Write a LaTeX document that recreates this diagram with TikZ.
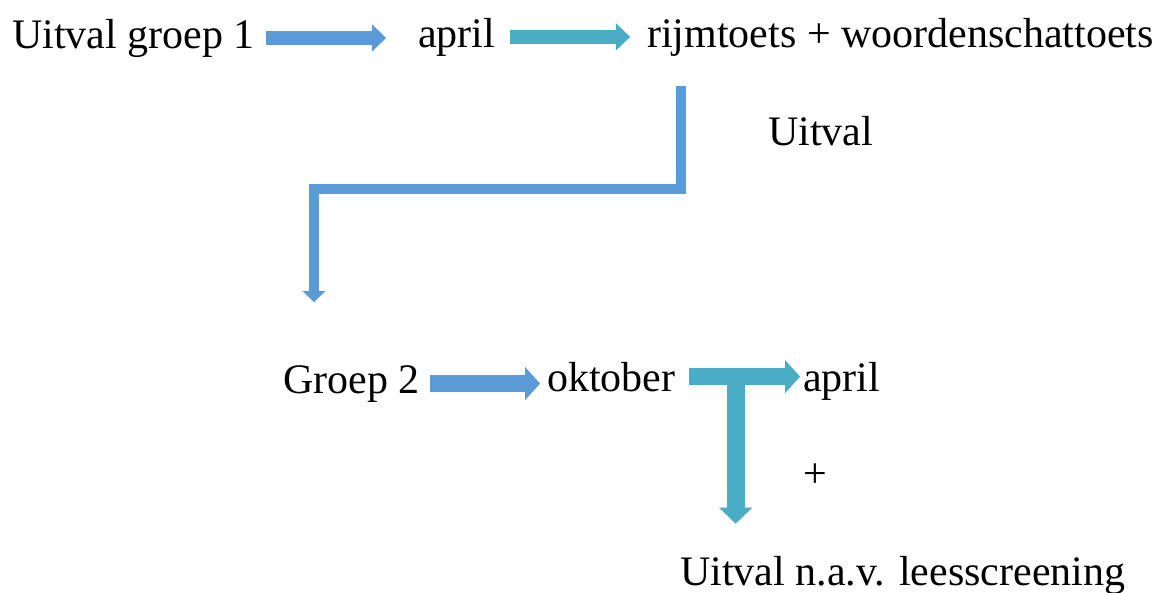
\documentclass[tikz,border=0pt]{standalone}
\usepackage{fontspec}
\setmainfont{Liberation Serif}
\usetikzlibrary{arrows.meta,calc}
\definecolor{accblue}{HTML}{5B9BD5}
\definecolor{accteal}{HTML}{4BACC6}
\tikzset{
  lbl/.style={inner sep=0pt, anchor=base west, font=\fontsize{42}{50}\selectfont},
  arrsmall/.style={line width=13.5pt, -{Triangle[length=14pt,width=27pt,line width=0.01pt]}},
  arrbig/.style={line width=17pt, -{Triangle[length=15pt,width=33pt,line width=0.01pt]}},
  arrelbow/.style={draw=accblue, line width=10pt, line join=miter, -{Triangle[length=11pt,width=23pt,line width=0.01pt]}},
}
\begin{document}
\begin{tikzpicture}[x=1pt,y=-1pt]
\useasboundingbox (0,0) rectangle (1166,592);
% texts
\node[lbl] (g1) at (12,48) {Uitval groep 1};
\node[lbl] (ap1) at (418,47) {april};
\node[lbl] (rijm) at (647,47) {rijmtoets + woordenschattoets};
\node[lbl] (uitv) at (768,145) {Uitval};
\node[lbl] (g2) at (283,393) {Groep 2};
\node[lbl] (okt) at (547,391) {oktober};
\node[lbl] (ap2) at (803,391) {april};
\node[lbl, anchor=base] (plus) at (815,487) {+};
\node[lbl] (bot) at (680,585) {Uitval n.a.v. leesscreening};
% top arrows
\draw[arrsmall, draw=accblue, accblue] ([xshift=11pt]g1.east) -- ([xshift=-32pt]g1.east -| ap1.west);
\draw[arrsmall, draw=accteal, accteal] ([xshift=15pt]ap1.east) -- ([xshift=-17pt]ap1.east -| rijm.west);
% elbow connector
\coordinate (elA) at (681,86);
\coordinate (elB) at (314,302);
\draw[arrelbow, accblue] (elA) -- ++(0,103) -| (elB);
% bottom arrows
\draw[arrbig, draw=accblue, accblue] ([xshift=10pt]g2.east) -- ([xshift=-7pt]g2.east -| okt.west);
\draw[arrbig, draw=accteal, accteal] ([xshift=13pt]okt.east) -- ([xshift=-3pt]okt.east -| ap2.west);
\coordinate (tj) at ([xshift=60pt]okt.east);
\draw[draw=accteal, accteal, line width=18pt, -{Triangle[length=16pt,width=33pt,line width=0.01pt]}, shorten >=32pt] (tj) -- (tj |- bot.north);
\end{tikzpicture}
\end{document}
